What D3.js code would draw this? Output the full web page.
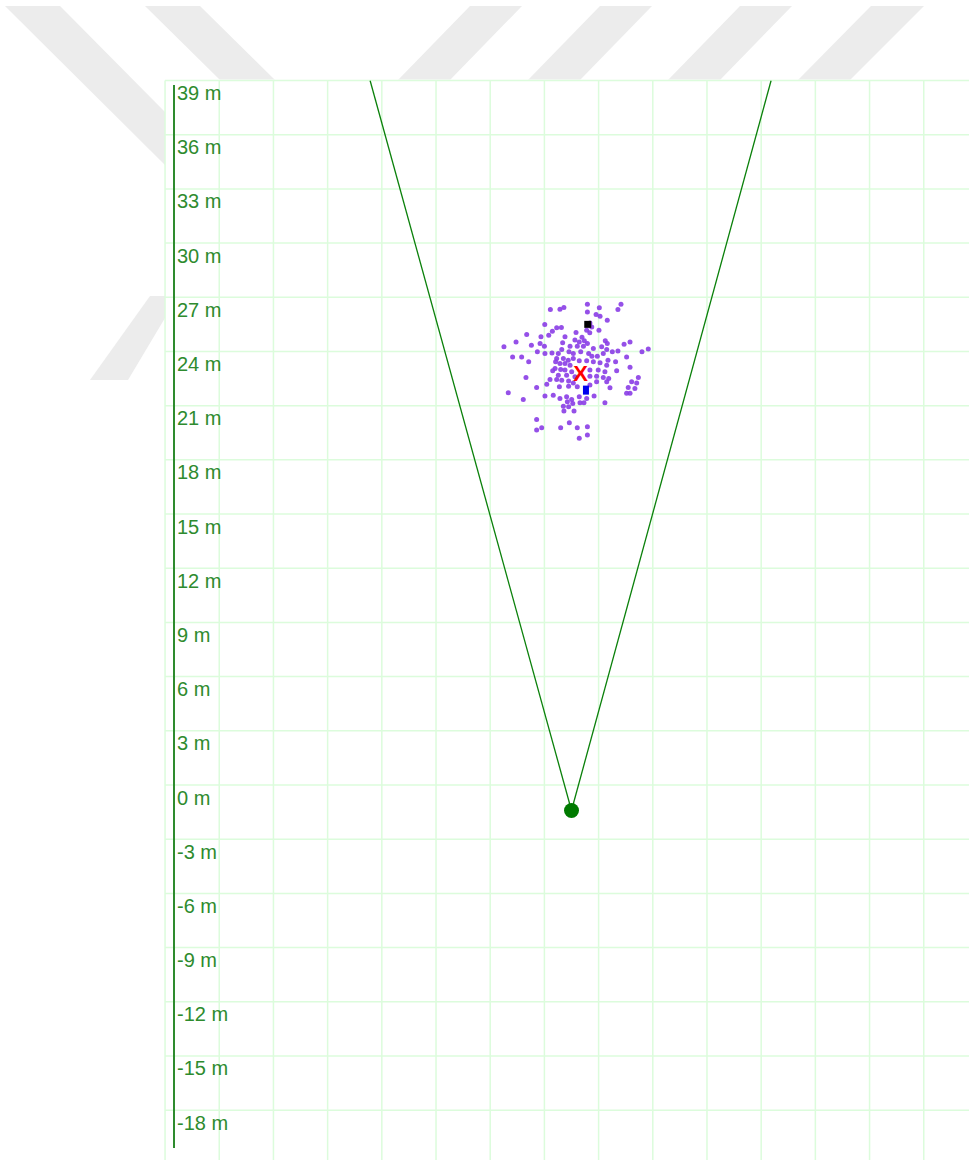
<!DOCTYPE html>
<html>
<head>
<meta charset="utf-8">
<script src="https://cdn.jsdelivr.net/npm/d3@7"></script>
<style>
  html, body { margin: 0; padding: 0; background: #ffffff; }
  svg { display: block; }
</style>
</head>
<body>
<svg id="svg" width="969" height="1160"></svg>
<script>
//Data (metres; x relative to the sensor)
const Y_TICKS = [39, 36, 33, 30, 27, 24, 21, 18, 15, 12, 9, 6, 3, 0, -3, -6, -9, -12, -15, -18];
const X_GRID = d3.range(-22.5, 22, 3);
const SENSOR = [0, -1.41];
const FOV_ENDS = [[-11.15, 39], [11.05, 39]];
const TARGET_BLACK = [0.90, 25.50];
const TARGET_BLUE = [0.80, 21.86];
const CENTROID = [0.51, 22.78];
const CLUSTER_X = [
  0.88, 2.74, 1.54, -0.64, -0.42, -1.17, 0.88, 2.57, 1.36, 1.58, 1.98, 1.02, -1.48, 1.12, 0.84, 1.52,
  -0.82, -0.56, -1.06, -2.48, -1.69, -1.26, -0.36, 0.25, 0.58, 1.01, 0.19, 0.43, 0.71, 0.88, 1.87, 1.98,
  2.91, 3.24, -3.07, -3.74, -2.22, -1.74, -1.50, -0.49, -0.08, 0.32, 0.66, 1.21, 1.67, 1.95, 2.26, 2.57,
  3.90, 4.25, -1.89, -1.47, -1.08, -0.73, -0.54, -0.14, 0.10, 0.51, 0.95, 1.13, 1.43, 1.76, 2.02, 2.44,
  3.05, -3.26, -2.76, -2.37, -0.82, -0.45, -0.18, 0.10, 0.43, 0.84, 1.21, 1.58, 1.95, -0.88, -0.64, -0.36,
  -0.08, -0.91, -0.60, -0.36, 0.01, 1.02, 1.48, 1.85, 2.50, 3.24, -1.04, -0.73, -0.27, 0.19, 1.02, 1.39,
  1.76, 2.06, 3.70, -2.52, -1.19, -0.82, -0.54, -0.16, 0.10, 1.39, 1.95, 3.33, 3.61, -1.93, -1.37, -0.67,
  -0.16, 0.32, 1.02, 2.13, 3.14, 3.51, 3.05, 3.24, -3.50, -2.67, -1.47, -1.01, -0.64, -0.27, 0.01, 0.43,
  0.84, 1.25, -0.23, 0.07, 0.47, 0.69, 1.85, -0.45, -0.16, -0.42, 0.14, -1.93, -0.12, -1.93, -1.65, -0.60,
  0.32, 0.88, 0.43, 0.88
];
const CLUSTER_Y = [
  26.62, 26.62, 26.42, 26.34, 26.43, 26.32, 26.19, 26.32, 26.05, 25.95, 25.73, 25.58, 25.49, 25.36, 25.18, 25.18,
  25.31, 25.33, 25.12, 24.94, 24.81, 24.90, 24.81, 25.05, 24.78, 25.03, 24.63, 24.53, 24.59, 24.44, 24.59, 24.44,
  24.40, 24.53, 24.53, 24.26, 24.35, 24.44, 24.29, 24.48, 24.29, 24.29, 24.29, 24.17, 24.26, 24.11, 23.98, 24.03,
  23.98, 24.13, 23.98, 23.89, 23.92, 23.89, 24.11, 23.98, 23.89, 23.98, 23.89, 23.74, 23.74, 23.89, 23.52, 23.43,
  23.70, 23.70, 23.70, 23.43, 23.61, 23.61, 23.52, 23.61, 23.48, 23.48, 23.43, 23.37, 23.24, 23.43, 23.34, 23.34,
  23.24, 23.06, 23.00, 22.97, 22.87, 22.97, 22.97, 22.87, 22.93, 23.12, 22.93, 22.69, 22.69, 22.60, 22.63, 22.63,
  22.56, 22.51, 22.56, 22.56, 22.45, 22.45, 22.41, 22.37, 22.26, 22.32, 22.32, 22.32, 22.26, 22.01, 22.19, 22.04,
  22.08, 22.04, 22.14, 21.99, 22.01, 21.95, 21.68, 21.68, 21.71, 21.34, 21.53, 21.58, 21.40, 21.49, 21.34, 21.49,
  21.40, 21.53, 21.21, 21.12, 21.16, 21.16, 21.16, 20.97, 20.94, 20.71, 20.71, 20.24, 20.05, 19.65, 19.77, 19.77,
  19.77, 19.83, 19.20, 19.37
];

//Colors
const GRID_COLOR = "#dcfcdc";
const AXIS_COLOR = "#2e8b2e";
const FOV_COLOR = "#0a800a";
const POINT_COLOR = "#8a3de6";

const SVG = d3.select("#svg");
const WIDTH = +SVG.attr("width");
const HEIGHT = +SVG.attr("height");
const PLOT_LEFT = 165;
const PLOT_TOP = 80.5;

//Scales
const y_scale = d3.scaleLinear().domain([0, 39]).range([785, PLOT_TOP]);
const x_scale = d3.scaleLinear().domain([0, 3]).range([571.5, 571.5 + (785 - PLOT_TOP) / 13]);

//Watermark behind the chart
const wm = SVG.append("g").attr("fill", "#ececec");
const bands = [
  [[5, 6], [60, 6], [165, 112], [165, 165]],
  [[145, 6], [200, 6], [275, 80], [220, 80]],
  [[470, 6], [522, 6], [450, 80], [398, 80]],
  [[600, 6], [652, 6], [580, 80], [528, 80]],
  [[740, 6], [792, 6], [720, 80], [668, 80]],
  [[871, 6], [924, 6], [850, 80], [798, 80]],
  [[150, 296], [165, 296], [165, 318], [128, 380], [90, 380]]
];
wm.selectAll("polygon").data(bands).enter().append("polygon")
  .attr("points", d => d.map(p => p.join(",")).join(" "));

//Plot background
SVG.append("rect")
  .attr("x", PLOT_LEFT).attr("y", PLOT_TOP - 1)
  .attr("width", WIDTH - PLOT_LEFT).attr("height", HEIGHT - PLOT_TOP + 1)
  .attr("fill", "#ffffff");

const plot = SVG.append("g");

//Grid
const gridYValues = d3.range(-21, 40, 3);
plot.append("g").selectAll("line").data(gridYValues).enter().append("line")
  .attr("x1", PLOT_LEFT).attr("x2", WIDTH)
  .attr("y1", d => y_scale(d)).attr("y2", d => y_scale(d))
  .attr("stroke", GRID_COLOR).attr("stroke-width", 1.5);
plot.append("g").selectAll("line").data(X_GRID).enter().append("line")
  .attr("x1", d => x_scale(d)).attr("x2", d => x_scale(d))
  .attr("y1", PLOT_TOP).attr("y2", HEIGHT)
  .attr("stroke", GRID_COLOR).attr("stroke-width", 1.5);

//Axis line and labels
plot.append("line")
  .attr("x1", 174).attr("x2", 174).attr("y1", 85).attr("y2", 1148)
  .attr("stroke", AXIS_COLOR).attr("stroke-width", 2);
plot.append("g").selectAll("text").data(Y_TICKS).enter().append("text")
  .attr("x", 177)
  .attr("y", d => y_scale(d) + 19.5)
  .attr("font-family", "'Liberation Sans', Arial, sans-serif")
  .attr("font-size", 20)
  .attr("fill", AXIS_COLOR)
  .text(d => d + " m");

//Field of view
const clip = SVG.append("clipPath").attr("id", "plot-clip");
clip.append("rect").attr("x", PLOT_LEFT).attr("y", PLOT_TOP)
  .attr("width", WIDTH - PLOT_LEFT).attr("height", HEIGHT - PLOT_TOP);
plot.append("g").attr("clip-path", "url(#plot-clip)")
  .selectAll("line").data(FOV_ENDS).enter().append("line")
  .attr("x1", x_scale(SENSOR[0])).attr("y1", y_scale(SENSOR[1]))
  .attr("x2", d => x_scale(d[0])).attr("y2", d => y_scale(d[1]))
  .attr("stroke", FOV_COLOR).attr("stroke-width", 1.3);

//Sensor
plot.append("circle")
  .attr("cx", x_scale(SENSOR[0])).attr("cy", y_scale(SENSOR[1]))
  .attr("r", 7.5).attr("fill", "#007a00");

//Detections
plot.append("g").selectAll("circle").data(d3.zip(CLUSTER_X, CLUSTER_Y)).enter().append("circle")
  .attr("cx", d => x_scale(d[0]))
  .attr("cy", d => y_scale(d[1]))
  .attr("r", 2.5)
  .attr("fill", POINT_COLOR)
  .attr("fill-opacity", 0.9);

//Tracked targets
plot.append("rect")
  .attr("x", x_scale(TARGET_BLACK[0]) - 3.5).attr("y", y_scale(TARGET_BLACK[1]) - 3.5)
  .attr("width", 7).attr("height", 7).attr("fill", "#000000");
plot.append("rect")
  .attr("x", x_scale(TARGET_BLUE[0]) - 3).attr("y", y_scale(TARGET_BLUE[1]) - 4.5)
  .attr("width", 6).attr("height", 9).attr("fill", "#0000ee");
plot.append("text")
  .attr("x", x_scale(CENTROID[0])).attr("y", y_scale(CENTROID[1]))
  .attr("text-anchor", "middle").attr("dominant-baseline", "central")
  .attr("font-family", "'Liberation Sans', Arial, sans-serif")
  .attr("font-size", 22)
  .attr("font-weight", "bold")
  .attr("fill", "#ff0000")
  .text("X");
</script>
</body>
</html>
